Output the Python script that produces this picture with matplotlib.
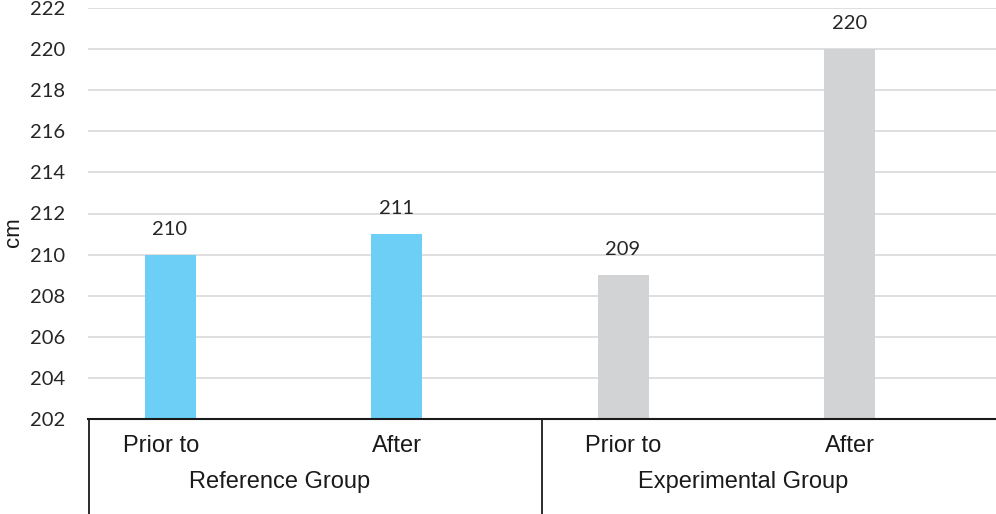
import matplotlib
matplotlib.use("Agg")
import matplotlib.pyplot as plt
import matplotlib.transforms as mtransforms

groups = ["Reference Group", "Experimental Group"]
periods = ["Prior to", "After"]
values = [210, 211, 209, 220]
colors = ["#6DCFF6", "#6DCFF6", "#D2D3D5", "#D2D3D5"]
yticks = [202, 204, 206, 208, 210, 212, 214, 216, 218, 220, 222]

W, H = 996, 514
fig = plt.figure(figsize=(W / 100, H / 100), dpi=100)
left, right, top, bottom = 88, 996, 8, 419
ax = fig.add_axes([left / W, (H - bottom) / H, (right - left) / W, (bottom - top) / H])

spacing = 226.5
x0px = 170
xs = list(range(len(values)))
ax.bar(xs, [v - 202 for v in values], bottom=202, width=51 / spacing, color=colors, zorder=3)
ax.set_xlim((left - x0px) / spacing, (right - x0px) / spacing)
ax.set_ylim(202, 222)
ax.set_yticks(yticks)
ax.set_yticklabels([str(t) for t in yticks], fontsize=14.5, family="Lato", color="#262626")
ax.tick_params(axis="y", length=0, pad=16.5)
ax.tick_params(axis="x", length=0, labelbottom=False)
ax.grid(axis="y", color="#D9D9D9", linewidth=1.2, zorder=0)
for s in ["left", "right", "top"]:
    ax.spines[s].set_visible(False)
ax.spines["bottom"].set_color("#1a1a1a")
ax.spines["bottom"].set_linewidth(1.5)
ax.spines["bottom"].set_zorder(4)

for x, v in zip(xs, values):
    ax.annotate(str(v), (x, v), xytext=(0, 12), textcoords="offset points",
                ha="center", va="bottom", fontsize=14.5, family="Lato", color="#262626")

trans = mtransforms.blended_transform_factory(ax.transData, ax.transAxes)
axh = bottom - top
for i, lab in enumerate(periods * len(groups)):
    ax.text(xs[i] - (0.04 if i == 0 else 0), (bottom - 446) / axh, lab, transform=trans,
            ha="center", va="center", fontsize=17, family="Liberation Sans", color="#1a1a1a")
for g, lab in enumerate(groups):
    ax.text(0.5 + 2 * g + (0.03 if g == 1 else -0.015), (bottom - 482) / axh, lab, transform=trans,
            ha="center", va="center", fontsize=17, family="Liberation Sans", color="#1a1a1a")

ybot = -(H - bottom) / axh
for xp in [left + 0.5, 542]:
    ax.plot([(xp - x0px) / spacing] * 2, [0, ybot], transform=trans, color="#1a1a1a",
            linewidth=1.3, clip_on=False)

fig.text(13 / W, 1 - 232 / H, "cm", rotation=90, ha="center", va="center",
         fontsize=16, family="Liberation Sans", color="#1a1a1a")

fig.savefig("out.png", dpi=100)
